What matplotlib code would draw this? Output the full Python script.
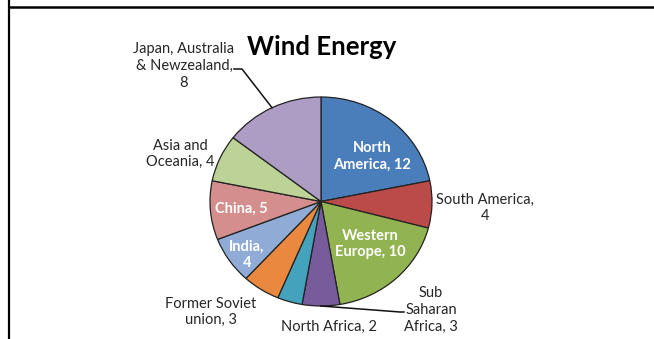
import numpy as np
import matplotlib.pyplot as plt
from matplotlib.lines import Line2D

plt.rcParams['font.family'] = ['Lato', 'DejaVu Sans']

# wind energy by region
regions = ["North\nAmerica", "South America,\n", "Western\nEurope", "Sub\nSaharan\nAfrica",
           "North Africa", "Former Soviet\nunion", "India,\n", "China",
           "Asia and\nOceania", "Japan, Australia\n& Newzealand,\n"]
values = [12, 4, 10, 3, 2, 3, 4, 5, 4, 8]
colors = ["#4A7EBB", "#BB4B48", "#92B352", "#775B9B", "#44A2BC",
          "#EA883F", "#8FABD6", "#D48E8D", "#BDD296", "#AD9DC4"]
inside = [True, False, True, False, False, False, True, True, False, False]

W, H = 654, 339
fig = plt.figure(figsize=(W / 100, H / 100), dpi=100)

# pie box in pixels (slightly wider than tall)
cx, cy, rx, ry = 321, 201.5, 111, 104.5
ax = fig.add_axes([(cx - rx) / W, (H - cy - ry) / H, 2 * rx / W, 2 * ry / H])
wedges, _ = ax.pie(values, colors=colors, startangle=90, counterclock=False,
                   wedgeprops=dict(edgecolor="#222222", linewidth=0.9))
ax.set_aspect("auto")
ax.set_xlim(-1, 1)
ax.set_ylim(-1, 1)


def px(x, y):
    # pixel position -> data coords of the pie axes
    return (x - cx) / rx, (cy - y) / ry


# label centres in pixels
label_pos = [(372, 156), (485, 208), (370, 244), (431, 310), (329, 327),
             (211, 312), (247, 255), (241, 209), (180, 154), (184, 66)]

for name, v, pos, ins in zip(regions, values, label_pos, inside):
    if name.endswith("\n"):
        txt = name + str(v)
    else:
        txt = f"{name}, {v}"
    x, y = px(*pos)
    ax.text(x, y, txt, ha="center", va="center", fontsize=10.5,
            linespacing=1.25, color="white" if ins else "#262626",
            fontweight="bold" if ins else "normal", clip_on=False)

# leader lines for the Japan and Sub Saharan labels
total = sum(values)
cum = np.cumsum([0] + values)
for i, ends in [(9, [(242, 69), (234, 69)]), (3, [(400, 312), (404, 312)])]:
    mid = np.deg2rad(90 - (cum[i] + values[i] / 2) * 360 / total)
    xs = [np.cos(mid)] + [px(*p)[0] for p in ends]
    ys = [np.sin(mid)] + [px(*p)[1] for p in ends]
    ax.plot(xs, ys, color="#111111", lw=1.1, clip_on=False)

fig.text(322 / W, 1 - 47 / H, "Wind Energy", ha="center", va="center",
         fontsize=18.5, fontweight="bold", color="black")

# frame edges
fig.add_artist(Line2D([9 / W, 1], [1 - 7 / H, 1 - 7 / H], color="black", lw=1.8))
fig.add_artist(Line2D([9 / W, 9 / W], [0, 1], color="black", lw=1.6))

fig.savefig("out.png", dpi=100)
